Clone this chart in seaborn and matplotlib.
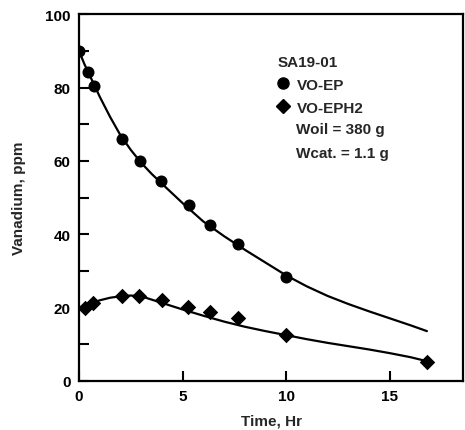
import matplotlib
matplotlib.use("Agg")
import matplotlib.pyplot as plt
import seaborn as sns
import pandas as pd
from matplotlib.lines import Line2D

# measured points
ep_time = [0.0, 0.45, 0.71, 2.09, 2.96, 3.98, 5.3, 6.31, 7.68, 9.98]
ep_v = [90.0, 84.3, 80.5, 65.9, 59.9, 54.4, 47.9, 42.6, 37.4, 28.3]
eph2_time = [0.3, 0.65, 2.06, 2.9, 4.0, 5.28, 6.33, 7.7, 10.0, 16.8]
eph2_v = [19.9, 21.3, 23.1, 23.1, 22.2, 20.3, 18.7, 17.1, 12.5, 5.1]

# fitted curves
fit_ep_t = [0, 0.25, 0.5, 0.75, 1, 1.5, 2, 2.5, 3, 3.5, 4, 5, 6, 7, 8, 9, 10,
            11, 12, 13, 14, 15, 16, 16.8]
fit_ep_v = [90, 86.5, 83.5, 80.5, 77.5, 72, 67, 63, 59.5, 56.5, 53.8, 48.5,
            43.5, 39.5, 35.8, 32.3, 28.8, 25.8, 23.2, 21.0, 19.0, 17.1, 15.2, 13.6]
fit_eph2_t = [0, 0.5, 1, 1.5, 2, 2.5, 3, 4, 5, 6, 7, 8, 9, 10, 11, 12, 13, 14,
              15, 16, 16.8]
fit_eph2_v = [20, 21.0, 22.0, 22.7, 23.1, 23.3, 23.1, 21.3, 19.5, 17.8, 16.2,
              14.8, 13.6, 12.5, 11.4, 10.4, 9.5, 8.6, 7.6, 6.5, 5.4]

xticks = [0, 5, 10, 15]
yticks = [0, 20, 40, 60, 80, 100]

sns.set_theme(style="white")
plt.rcParams['font.family'] = ['Liberation Sans', 'DejaVu Sans']
plt.rcParams['font.weight'] = 'bold'

fig = plt.figure(figsize=(4.65, 4.31), dpi=100)
ax = fig.add_axes([0.170, 0.1137, 0.826, 0.851])

sns.lineplot(x=fit_ep_t, y=fit_ep_v, ax=ax, color='black', lw=1.6, sort=False)
sns.lineplot(x=fit_eph2_t, y=fit_eph2_v, ax=ax, color='black', lw=1.6, sort=False)
sns.scatterplot(x=ep_time, y=ep_v, ax=ax, marker='o', s=75, color='black',
                edgecolor='black', linewidth=0, zorder=5)
sns.scatterplot(x=eph2_time, y=eph2_v, ax=ax, marker='D', s=62, color='black',
                edgecolor='black', linewidth=0, zorder=5)

ax.set_xlim(0, 18.55)
ax.set_ylim(0, 100)
ax.set_xticks(xticks)
ax.set_yticks(yticks)
ax.set_yticks(range(0, 101, 10), minor=True)
ax.tick_params(axis='both', which='both', direction='in', length=7, width=1.5,
               labelsize=11, colors='black', pad=6)
ax.tick_params(axis='y', which='both', left=True, right=False)
ax.tick_params(axis='x', which='both', bottom=True, top=False)
for lbl in ax.get_xticklabels() + ax.get_yticklabels():
    lbl.set_fontweight('bold')
for sp in ax.spines.values():
    sp.set_color('black')
    sp.set_linewidth(1.6)

ax.set_xlabel('Time, Hr', fontsize=11, fontweight='bold', labelpad=7)
ax.set_ylabel('Vanadium, ppm', fontsize=11, fontweight='bold', labelpad=14)

handles = [Line2D([], [], marker='o', color='black', ls='none', markersize=8),
           Line2D([], [], marker='D', color='black', ls='none', markersize=7.5)]
leg = ax.legend(handles, ['VO-EP', 'VO-EPH2'], title='SA19-01', loc='upper left',
                bbox_to_anchor=(0.50, 0.906), frameon=False, fontsize=11,
                title_fontsize=11, handlelength=0.8, handletextpad=0.5,
                labelspacing=0.58, alignment='left', borderaxespad=0)
leg.get_title().set_fontweight('bold')
for t in leg.get_texts():
    t.set_fontweight('bold')

ax.text(0.566, 0.687, 'Woil = 380 g', transform=ax.transAxes, fontsize=11,
        fontweight='bold', va='center')
ax.text(0.566, 0.621, 'Wcat. = 1.1 g', transform=ax.transAxes, fontsize=11,
        fontweight='bold', va='center')

fig.savefig('out.png', dpi=100)
